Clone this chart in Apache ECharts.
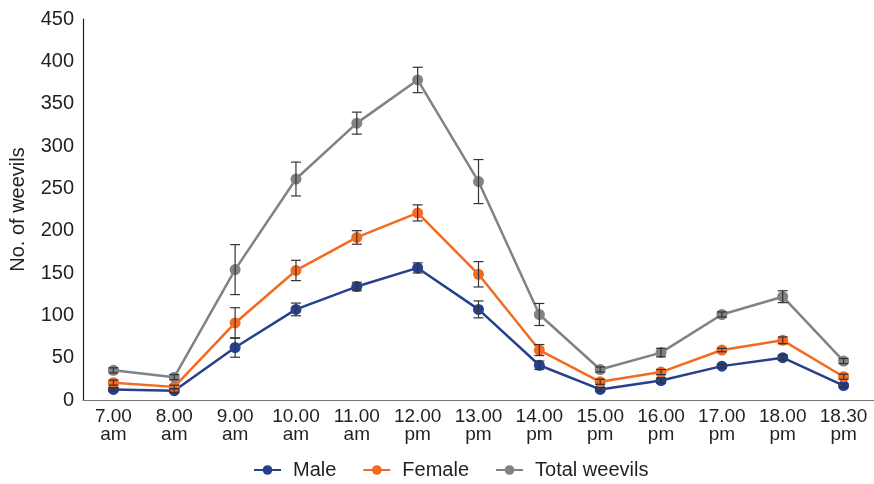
<!DOCTYPE html>
<html>
<head>
<meta charset="utf-8">
<script src="https://cdn.jsdelivr.net/npm/echarts@6/dist/echarts.min.js"></script>
<style>html,body{margin:0;padding:0;background:#fff}#c{width:874px;height:484px}</style>
</head>
<body>
<div id="c"></div>
<script>
const categories = ['7.00\nam','8.00\nam','9.00\nam','10.00\nam','11.00\nam','12.00\npm','13.00\npm','14.00\npm','15.00\npm','16.00\npm','17.00\npm','18.00\npm','18.30\npm'];
const male = [12.5, 11, 62, 107, 134, 156, 107, 41, 12.5, 23, 40, 50, 17];
const maleErr = [2, 2, 11.5, 7.5, 5, 6, 10, 5, 2, 3, 2, 3, 2];
const female = [20.5, 15.5, 91, 153, 192, 221, 148.5, 59, 21.5, 33, 59, 70.5, 27.5];
const femaleErr = [3, 2, 18, 12, 8, 9.5, 15, 6.5, 3, 3, 2, 4, 3];
const total = [35, 27, 154, 261, 327, 378, 258, 101, 36, 56, 101, 122, 46];
const totalErr = [3, 3, 29.5, 20, 13, 15, 26, 13, 3, 5, 3, 7, 3];
const yTicks = {min: 0, max: 450, interval: 50};

const colors = {male: '#26408f', female: '#f36a21', total: '#818285'};
const font = 'Liberation Sans, Arial, sans-serif';
const textColor = '#231f20';

function errData(vals, errs) {
  return vals.map((v, i) => [i, v, errs[i]]);
}
function errRender(params, api) {
  const x = api.value(0), v = api.value(1), e = api.value(2);
  const top = api.coord([x, v + e]);
  const bot = api.coord([x, v - e]);
  const w = 5;
  const style = {stroke: '#333', lineWidth: 1.2};
  return {
    type: 'group',
    children: [
      {type: 'line', shape: {x1: top[0], y1: top[1], x2: bot[0], y2: bot[1]}, style},
      {type: 'line', shape: {x1: top[0] - w, y1: top[1], x2: top[0] + w, y2: top[1]}, style},
      {type: 'line', shape: {x1: bot[0] - w, y1: bot[1], x2: bot[0] + w, y2: bot[1]}, style}
    ]
  };
}
function lineSeries(name, data, color) {
  return {
    name, type: 'line', data, symbol: 'circle', symbolSize: 11,
    lineStyle: {color, width: 2.5}, itemStyle: {color}, z: 3
  };
}
function errSeries(vals, errs) {
  return {
    type: 'custom', data: errData(vals, errs), renderItem: errRender,
    encode: {x: 0, y: 1}, z: 4, silent: true, tooltip: {show: false}
  };
}

const chart = echarts.init(document.getElementById('c'));
chart.setOption({
  animation: false,
  textStyle: {fontFamily: font},
  grid: {left: 82, right: -4, top: 19, bottom: 84, containLabel: false},
  legend: {
    data: ['Male', 'Female', 'Total weevils'],
    left: 248, top: 455, itemWidth: 27, itemHeight: 12, itemGap: 26,
    textStyle: {fontSize: 20, color: textColor, fontFamily: font, padding: [0, 0, 0, 7]}
  },
  xAxis: {
    type: 'category', data: categories, boundaryGap: true,
    axisLine: {lineStyle: {color: '#777', width: 1.2}},
    axisTick: {show: false},
    axisLabel: {fontSize: 19, color: textColor, lineHeight: 18, margin: 8, interval: 0}
  },
  yAxis: {
    type: 'value', min: yTicks.min, max: yTicks.max, interval: yTicks.interval,
    name: 'No. of weevils', nameLocation: 'middle', nameGap: 55, nameRotate: 90,
    nameTextStyle: {fontSize: 20, color: textColor, fontFamily: font},
    axisLine: {show: true, lineStyle: {color: '#222', width: 1.2}},
    axisTick: {show: false},
    splitLine: {show: false},
    axisLabel: {fontSize: 20, color: textColor, margin: 9}
  },
  series: [
    lineSeries('Male', male, colors.male),
    lineSeries('Female', female, colors.female),
    lineSeries('Total weevils', total, colors.total),
    errSeries(male, maleErr),
    errSeries(female, femaleErr),
    errSeries(total, totalErr)
  ]
});
</script>
</body>
</html>
